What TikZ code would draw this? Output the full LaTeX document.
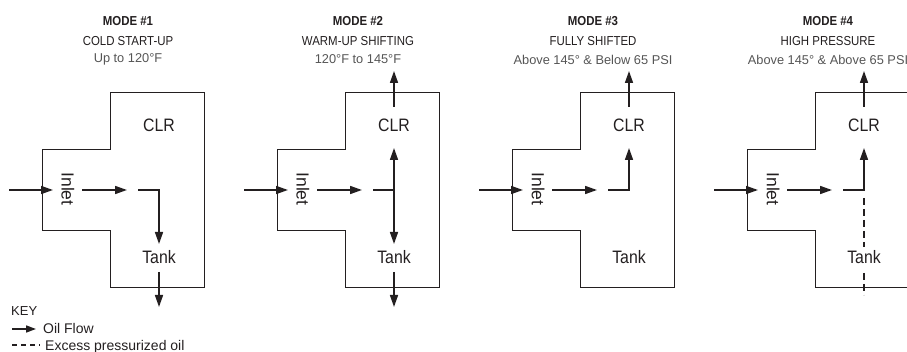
\documentclass[tikz,border=0pt]{standalone}
\usepackage{fontspec}
\setmainfont{Liberation Sans}
\newfontfamily\condfont{Liberation Sans}[FakeStretch=0.88]
\usetikzlibrary{arrows.meta}

\definecolor{inkgray}{HTML}{231F20}
\definecolor{rangegray}{HTML}{555555}

\begin{document}
\begin{tikzpicture}[
    x=1pt, y=-1pt,
    housing/.style={draw=inkgray, line width=0.9pt},
    flow/.style={-{Triangle[length=12pt,width=8pt]}, line width=1.6pt, draw=inkgray},
    excess/.style={line width=1.5pt, dash pattern=on 6pt off 4pt, draw=inkgray},
    plain/.style={line width=1.6pt, draw=inkgray},
    part/.style={inner sep=0pt, text=inkgray, font=\condfont\fontsize{18}{18}\selectfont},
    inletlbl/.style={inner sep=0pt, text=inkgray, rotate=-90, font=\fontsize{17.5}{17.5}\selectfont},
    modetitle/.style={inner sep=0pt, text=inkgray, font=\condfont\bfseries\fontsize{13}{13}\selectfont},
    modename/.style={inner sep=0pt, text=inkgray, font=\condfont\fontsize{13}{13}\selectfont},
    moderange/.style={inner sep=0pt, text=rangegray, font=\fontsize{12.8}{12.8}\selectfont},
    keytext/.style={inner sep=0pt, text=inkgray, anchor=west, font=\fontsize{14}{14}\selectfont}
  ]
  \useasboundingbox (0,0) rectangle (907,352);

  % the four modes share the housing and the inlet path
  \foreach \m/\dx/\tx/\mname/\mrange in {
      1/42/86/{COLD START-UP}/{Up to 120°F},
      2/277/81/{WARM-UP SHIFTING}/{120°F to 145°F},
      3/512/81/{FULLY SHIFTED}/{Above 145° \& Below 65 PSI},
      4/747/81/{HIGH PRESSURE}/{Above 145° \& Above 65 PSI}} {
    \begin{scope}[xshift=\dx pt]
      \node[modetitle] (title\m) at (\tx,21.5) {MODE \#\m};
      \node[modename] (name\m) at (\tx,41) {\mname};
      \node[moderange] (range\m) at (\tx,59.5) {\mrange};

      \draw[housing] (68,92) -- (162,92) -- (162,287) -- (68,287) -- (68,230)
        -- (0,230) -- (0,149) -- (68,149) -- cycle;

      \node[inletlbl] (inlet\m) at (26,189) {Inlet};
      \node[part] (clr\m) at (117,125) {CLR};
      \node[part] (tank\m) at (117,257) {Tank};

      \coordinate (src\m) at (-33,190);
      \coordinate (entry\m) at (11,190);
      \coordinate (midA\m) at (40,190);
      \coordinate (midB\m) at (85,190);
      \coordinate (stub\m) at (96,190);
      \coordinate (tee\m) at (117,190);
      \coordinate (up\m) at (117,148);
      \coordinate (down\m) at (117,244);
      \coordinate (topA\m) at (117,107);
      \coordinate (topB\m) at (117,71);
      \coordinate (botA\m) at (117,272);
      \coordinate (botB\m) at (117,307);
      \coordinate (relief\m) at (117,198);
      \coordinate (reliefA\m) at (117,247);
      \coordinate (reliefB\m) at (117,273);
      \coordinate (drain\m) at (117,295);

      \draw[flow] (src\m) -- (entry\m);
      \draw[flow] (midA\m) -- (midB\m);
    \end{scope}
  }

  % mode 1: all oil to the tank
  \draw[flow] (stub1) -- (tee1) -- (down1);
  \draw[flow] (botA1) -- (botB1);

  % mode 2: split between cooler and tank
  \draw[plain] (stub2) -- (tee2);
  \draw[flow] (tee2) -- (up2);
  \draw[flow] (tee2) -- (down2);
  \draw[flow] (topA2) -- (topB2);
  \draw[flow] (botA2) -- (botB2);

  % mode 3: all oil to the cooler
  \draw[flow] (stub3) -- (tee3) -- (up3);
  \draw[flow] (topA3) -- (topB3);

  % mode 4: cooler plus relief to the tank
  \draw[flow] (stub4) -- (tee4) -- (up4);
  \draw[flow] (topA4) -- (topB4);
  \draw[excess, dash pattern=on 7pt off 4pt] (relief4) -- (reliefA4);
  \draw[excess, dash pattern=on 7pt off 4pt] (reliefB4) -- (drain4);

  % key
  \node[keytext, font=\fontsize{13}{13}\selectfont] (key) at (11,311) {KEY};
  \coordinate (keyA) at (12,329);
  \coordinate (keyB) at (36,329);
  \coordinate (keyC) at (12,345);
  \coordinate (keyD) at (40,345);
  \draw[flow, -{Triangle[length=10pt,width=7pt]}] (keyA) -- (keyB);
  \node[keytext] (keyflow) at (43,328) {Oil Flow};
  \draw[excess, dash pattern=on 5pt off 4pt] (keyC) -- (keyD);
  \node[keytext, anchor=base west] (keyexcess) at (45,350) {Excess pressurized oil};
\end{tikzpicture}
\end{document}
